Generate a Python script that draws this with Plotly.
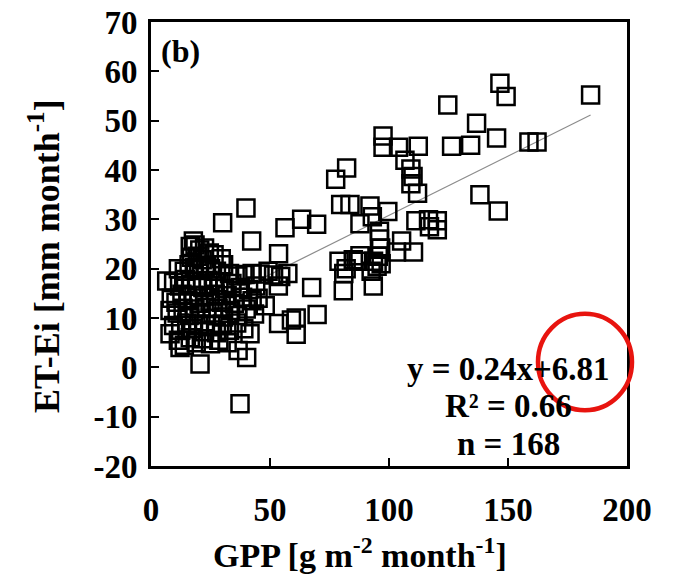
import plotly.graph_objects as go

# GPP [g m-2 month-1] and ET-Ei [mm month-1]
gpp = [146.6, 149.2, 184.7, 124.7, 136.8, 145.2, 126.3, 134.3, 158.8, 162.2,
       138.2, 145.9, 112.3, 97.5, 97.5, 104.0, 106.7, 109.2, 110.1, 109.2,
       112.0, 82.2, 77.6, 79.7, 83.6, 92.0, 93.0, 99.5, 56.3, 63.3,
       69.6, 96.0, 96.0, 96.5, 103.1, 110.3, 111.3, 116.6, 120.3, 120.3,
       117.0, 93.5, 95.0, 96.7, 95.5, 92.5, 79.0, 81.0, 85.0, 87.0,
       82.0, 87.8, 87.8, 93.4, 80.8, 67.5, 53.6, 51.5, 54.5, 53.5,
       53.6, 59.0, 61.0, 69.8, 61.0, 57.5, 105.3,
       39.9, 30.1, 42.3, 17.8, 6.6, 20.6, 37.4, 40.2, 36.6, 8.0,
       12.2, 41.6, 49.2, 45.8,
       16.5, 18.5, 20.5, 22.5, 24.5, 19.5, 26.5, 29.5, 21.5, 17.0,
       11.5, 14.0, 16.0, 18.2, 20.0, 22.8, 25.0, 27.5, 30.5, 33.0, 36.5, 39.5, 42.5,
       9.5, 12.0, 14.5, 17.0, 19.5, 21.8, 24.0, 26.2, 28.5, 31.0, 34.0, 37.5, 41.0, 44.0,
       8.5, 10.5, 13.0, 15.5, 18.0, 20.2, 22.5, 24.8, 27.0, 29.5, 32.0, 35.0, 38.5, 42.5, 45.0,
       8.0, 11.0, 13.5, 16.0, 18.5, 21.0, 23.5, 26.0, 28.2, 30.5, 33.5, 36.5, 40.0, 43.5,
       9.5, 12.5, 15.0, 17.5, 20.0, 22.5, 25.0, 27.5, 30.0, 33.0, 36.0, 39.0,
       11.5, 14.0, 16.5, 19.0, 22.0, 25.0, 28.5, 32.0, 48.0]
et_ei = [57.6, 54.9, 55.2, 53.2, 49.5, 46.5, 44.8, 45.0, 45.7, 45.7,
         35.0, 31.7, 44.8, 46.9, 44.6, 44.6, 42.0, 40.2, 38.7, 37.2,
         35.3, 40.4, 38.1, 33.0, 33.0, 32.7, 30.5, 31.6, 28.3, 30.0,
         29.0, 27.6, 26.0, 24.2, 23.4, 23.4, 29.7, 29.9, 29.7, 27.9,
         28.5, 21.5, 20.5, 21.0, 22.5, 19.5, 21.5, 19.0, 21.8, 21.5,
         20.0, 22.6, 29.1, 16.5, 15.5, 16.2, 23.0, 18.7, 18.4, 16.5,
         8.9, 9.6, 6.7, 10.7, 10.0, 19.0, 25.6,
         32.3, 29.3, 25.6, 25.6, 17.5, 0.7, -7.4, 2.0, 3.4, 6.8,
         4.0, 6.8, 19.5, 18.9,
         24.5, 24.8, 23.8, 24.2, 23.2, 22.5, 22.8, 22.0, 21.8, 22.3,
         20.0, 19.5, 20.8, 20.2, 19.8, 20.5, 20.0, 19.5, 20.8, 19.0, 18.5, 18.8, 19.0,
         17.2, 16.5, 17.8, 16.8, 17.5, 16.2, 17.6, 16.5, 17.2, 16.0, 17.0, 16.2, 15.8, 16.5,
         14.0, 13.2, 14.8, 13.5, 14.6, 13.0, 14.5, 13.4, 14.8, 13.2, 14.5, 13.0, 14.2, 13.5, 14.0,
         11.5, 11.0, 12.0, 10.5, 11.8, 10.8, 12.2, 11.0, 12.0, 10.2, 11.5, 10.5, 11.8, 10.8,
         8.5, 7.5, 9.0, 7.8, 8.8, 7.2, 8.5, 7.0, 8.8, 7.5, 9.0, 7.8,
         5.5, 4.5, 6.0, 5.0, 5.8, 4.8, 5.5, 5.0, 12.5]

slope = 0.24
intercept = 6.81
fit_x = [min(gpp), max(gpp)]
fit_y = [slope * v + intercept for v in fit_x]

x_ticks = [0, 50, 100, 150, 200]
y_ticks = [-20, -10, 0, 10, 20, 30, 40, 50, 60, 70]

x_title = "GPP [g m<sup>-2</sup> month<sup>-1</sup>]"
y_title = "ET-Ei [mm month<sup>-1</sup>]"
stats_lines = ["y = 0.24x+6.81", "R² = 0.66", "n = 168"]

FONT = "Liberation Serif"
TICK = dict(family=FONT, size=33, color="black", weight="bold")

fig = go.Figure()
fig.add_trace(go.Scatter(x=fit_x, y=fit_y, mode="lines",
                         line=dict(color="#8c8c8c", width=1.2),
                         showlegend=False, hoverinfo="skip"))
fig.add_trace(go.Scatter(x=gpp, y=et_ei, mode="markers",
                         marker=dict(symbol="square-open", size=17, color="black",
                                     line=dict(width=2.5, color="black")),
                         showlegend=False))

axis_common = dict(showline=True, linecolor="black", linewidth=3, mirror=True,
                   showgrid=False, zeroline=False, ticks="inside", ticklen=8,
                   tickwidth=2, tickcolor="black", automargin=False,
                   ticklabeloverflow="allow", tickfont=TICK)

fig.update_xaxes(range=[0, 200], tickvals=x_ticks,
                 ticktext=[str(v) for v in x_ticks], ticklabelstandoff=12,
                 **axis_common)
fig.update_yaxes(range=[-20, 70], tickvals=y_ticks,
                 ticktext=[str(v) for v in y_ticks], ticklabelstandoff=4,
                 **axis_common)

fig.add_annotation(x=0.439, y=-0.197, xref="paper", yref="paper", xanchor="center",
                   yanchor="middle", showarrow=False, text=x_title,
                   font=dict(family=FONT, size=34, color="black", weight="bold"))
fig.add_annotation(x=-0.2227, y=0.473, xref="paper", yref="paper", xanchor="center",
                   yanchor="middle", showarrow=False, text=y_title, textangle=-90,
                   font=dict(family=FONT, size=36, color="black", weight="bold"))
fig.add_annotation(x=0.017, y=0.935, xref="paper", yref="paper", xanchor="left",
                   yanchor="middle", showarrow=False, text="(b)",
                   font=dict(family=FONT, size=32, color="black", weight="bold"))
for txt, yp in zip(stats_lines, [0.2175, 0.1345, 0.049]):
    fig.add_annotation(x=0.75, y=yp, xref="paper", yref="paper", xanchor="center",
                       yanchor="middle", showarrow=False, text=txt,
                       font=dict(family=FONT, size=33, color="black", weight="bold"))
fig.add_shape(type="circle", xref="paper", yref="paper",
              x0=0.813, x1=1.0105, y0=0.1256, y1=0.343,
              line=dict(color="#e8140f", width=4.5), layer="above")

# page body adds an 8px offset, so the figure is 8px smaller than the window
fig.update_layout(width=665, height=570, margin=dict(l=143, r=46, t=14, b=112),
                  plot_bgcolor="white", paper_bgcolor="white")

fig.write_html("out.html")
